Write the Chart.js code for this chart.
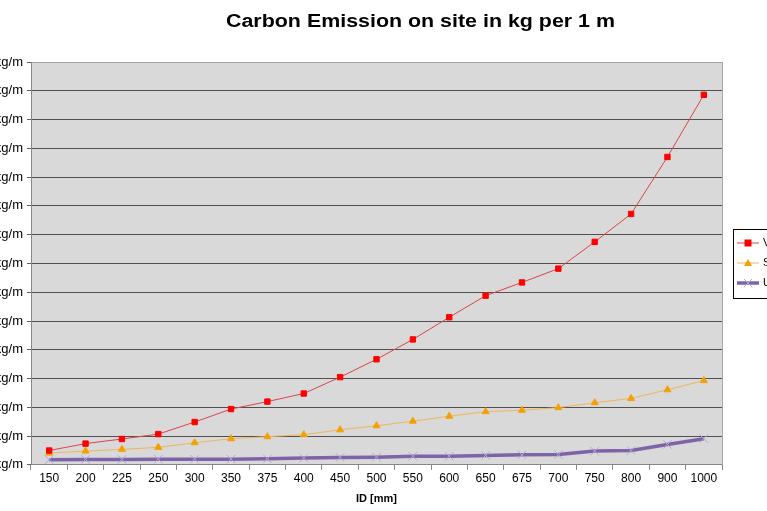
<!DOCTYPE html>
<html>
<head>
<meta charset="utf-8">
<script src="https://cdn.jsdelivr.net/npm/chart.js@4"></script>
<style>
  html, body { margin: 0; padding: 0; background: #fff; overflow: hidden; }
  #wrap { position: absolute; left: -60px; top: 0; width: 958px; height: 511px; }
</style>
</head>
<body>
<div id="wrap"><canvas id="chart"></canvas></div>
<script>
// Carbon Emission line chart (Excel style)

const categories = ['150', '200', '225', '250', '300', '350', '375', '400', '450', '500',
  '550', '600', '650', '675', '700', '750', '800', '900', '1000'];

const seriesNames = ['Vitrified clay', 'Steel', 'Uponor'];

const vitrified = [0.50, 0.74, 0.90, 1.07, 1.49, 1.94, 2.20, 2.48, 3.05, 3.67,
  4.36, 5.13, 5.88, 6.34, 6.82, 7.75, 8.72, 10.70, 12.86];
const steel = [0.41, 0.48, 0.54, 0.61, 0.77, 0.91, 0.98, 1.05, 1.22, 1.36,
  1.52, 1.69, 1.85, 1.90, 1.99, 2.16, 2.31, 2.61, 2.93];
const uponor = [0.18, 0.19, 0.19, 0.20, 0.20, 0.20, 0.21, 0.24, 0.26, 0.27,
  0.30, 0.30, 0.33, 0.35, 0.36, 0.48, 0.50, 0.71, 0.91];

const yTicks = [0, 1, 2, 3, 4, 5, 6, 7, 8, 9, 10, 11, 12, 13, 14];

const TITLE = 'Carbon Emission on site in kg per 1 m';
const FONT = 'Arial, "Liberation Sans", sans-serif';

// grey plot area + right border
const plotBg = {
  id: 'plotBg',
  beforeDraw(chart) {
    const { ctx, chartArea: a } = chart;
    ctx.save();
    ctx.fillStyle = '#ffffff';
    ctx.fillRect(0, 0, chart.width, chart.height);
    ctx.fillStyle = '#d9d9d9';
    ctx.fillRect(a.left, a.top, a.right - a.left, a.bottom - a.top);
    ctx.restore();
  },
  beforeDatasetsDraw(chart) {
    const { ctx, chartArea: a } = chart;
    ctx.save();
    ctx.strokeStyle = '#a6a6a6';
    ctx.lineWidth = 1;
    ctx.beginPath();
    ctx.moveTo(a.right + 0.5, a.top);
    ctx.lineTo(a.right + 0.5, a.bottom);
    ctx.stroke();
    ctx.restore();
  },
};

// the Excel title is a little stretched sideways
const wideTitle = {
  id: 'wideTitle',
  afterDraw(chart) {
    const { ctx } = chart;
    ctx.save();
    ctx.font = 'bold 17.5px ' + FONT;
    const w = ctx.measureText(TITLE).width;
    const sx = 389 / w;
    ctx.translate(480.5, 26.5);
    ctx.scale(sx, 1);
    ctx.fillStyle = '#000';
    ctx.textAlign = 'center';
    ctx.textBaseline = 'alphabetic';
    ctx.fillText(TITLE, 0, 0);
    ctx.restore();
  },
};

// legend box on the right, like the Excel one
const sideLegend = {
  id: 'sideLegend',
  afterDraw(chart) {
    const { ctx, chartArea: a } = chart;
    const x = a.right + 11, y = 229, w = 120, h = 69;
    ctx.save();
    ctx.fillStyle = '#fff';
    ctx.fillRect(x, y, w, h);
    ctx.strokeStyle = '#000';
    ctx.lineWidth = 1;
    ctx.strokeRect(x + 0.5, y + 0.5, w, h);
    chart.data.datasets.forEach((ds, i) => {
      const ly = y + 14 + i * 20;
      ctx.strokeStyle = ds.borderColor;
      ctx.lineWidth = ds.borderWidth;
      ctx.beginPath();
      ctx.moveTo(x + 4, ly);
      ctx.lineTo(x + 26, ly);
      ctx.stroke();
      ctx.fillStyle = ds.pointBackgroundColor;
      ctx.strokeStyle = ds.pointBorderColor;
      ctx.lineWidth = 1;
      const cx = x + 15;
      if (ds.pointStyle === 'rect') {
        ctx.fillRect(cx - 3.5, ly - 3.5, 7, 7);
      } else if (ds.pointStyle === 'triangle') {
        ctx.beginPath();
        ctx.moveTo(cx, ly - 4);
        ctx.lineTo(cx + 4, ly + 3);
        ctx.lineTo(cx - 4, ly + 3);
        ctx.closePath();
        ctx.fill();
      } else {
        ctx.beginPath();
        ctx.moveTo(cx - 4, ly - 4); ctx.lineTo(cx + 4, ly + 4);
        ctx.moveTo(cx + 4, ly - 4); ctx.lineTo(cx - 4, ly + 4);
        ctx.stroke();
      }
      ctx.fillStyle = '#000';
      ctx.font = '11px ' + FONT;
      ctx.textBaseline = 'middle';
      ctx.fillText(ds.label, x + 30, ly);
    });
    ctx.restore();
  },
};

new Chart(document.getElementById('chart'), {
  type: 'line',
  data: {
    labels: categories,
    datasets: [
      {
        label: seriesNames[0],
        data: vitrified,
        borderColor: '#d9454a',
        borderWidth: 1,
        pointStyle: 'rect',
        pointRadius: 3.8,
        pointBackgroundColor: '#ff0000',
        pointBorderColor: '#ff0000',
        tension: 0,
      },
      {
        label: seriesNames[1],
        data: steel,
        borderColor: '#f2b45a',
        borderWidth: 1,
        pointStyle: 'triangle',
        pointRadius: 4,
        pointBackgroundColor: '#f5a000',
        pointBorderColor: '#f5a000',
        tension: 0,
      },
      {
        label: seriesNames[2],
        data: uponor,
        borderColor: '#7d63a8',
        borderWidth: 3.5,
        pointStyle: 'crossRot',
        pointRadius: 6,
        pointBorderWidth: 1,
        pointBackgroundColor: '#b4a8d4',
        pointBorderColor: '#b4a8d4',
        tension: 0,
      },
    ],
  },
  options: {
    responsive: true,
    maintainAspectRatio: false,
    animation: false,
    layout: { padding: { left: 0, right: 176, top: 62, bottom: 5.5 } },
    plugins: {
      legend: { display: false },
      tooltip: { enabled: false },
      title: { display: false },
    },
    scales: {
      x: {
        offset: true,
        grid: { offset: true, drawOnChartArea: false, drawTicks: true, tickLength: 5, color: '#888' },
        border: { color: '#888' },
        ticks: { color: '#000', font: { family: FONT, size: 12 }, padding: 2, maxRotation: 0, autoSkip: false },
        title: {
          display: true,
          text: 'ID [mm]',
          color: '#000',
          font: { family: FONT, size: 11, weight: 'bold' },
          padding: { top: 4, bottom: 0 },
        },
      },
      y: {
        min: 0,
        max: 14,
        afterFit: (scale) => { scale.width = 91; },
        afterBuildTicks: (scale) => { scale.ticks = yTicks.map((v) => ({ value: v })); },
        grid: {
          color: (c) => (c.tick && c.tick.value === 14 ? '#a0a0a0' : '#505050'),
          tickColor: '#606060',
          tickLength: 4,
        },
        border: { color: '#888' },
        ticks: {
          color: '#000',
          font: { family: FONT, size: 13 },
          padding: 4,
          callback: (v) => v + ' kg/m',
        },
      },
    },
  },
  plugins: [plotBg, wideTitle, sideLegend],
});
</script>
</body>
</html>
